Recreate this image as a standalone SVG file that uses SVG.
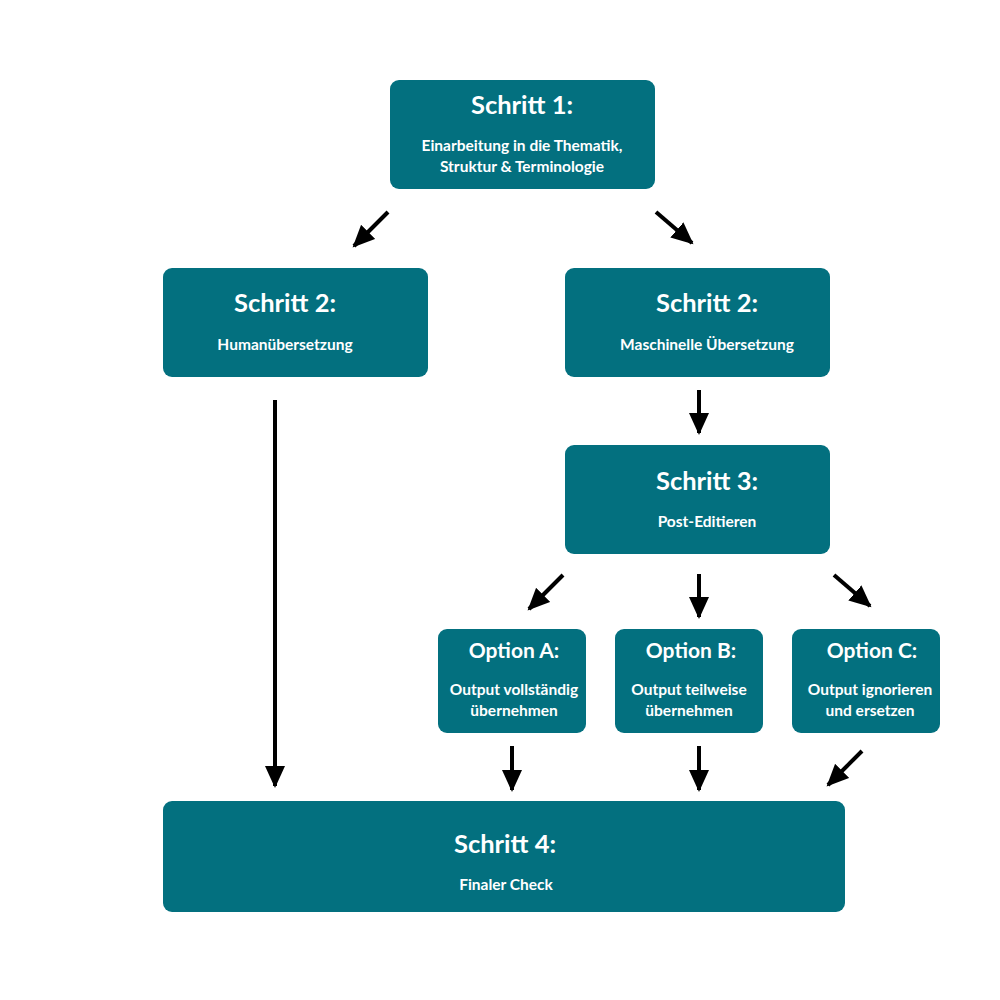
<svg xmlns="http://www.w3.org/2000/svg" width="1000" height="1000" viewBox="0 0 1000 1000">
<defs>
<style>
.box{fill:#03707f}
.t{font-family:"Lato","Open Sans",sans-serif;font-weight:bold;fill:#fff;text-anchor:middle}
.h{font-size:25.5px}
.o{font-size:21px}
.s{font-size:15.5px}
.c{stroke:#000;stroke-width:4;fill:none;marker-end:url(#ah)}
</style>
<marker id="ah" markerUnits="userSpaceOnUse" markerWidth="24" markerHeight="22" refX="20" refY="10" orient="auto">
<path d="M0,0 L22,10 L0,20 Z" fill="#000"/>
</marker>
</defs>
<rect width="1000" height="1000" fill="#fff"/>
<g id="s1"><rect class="box" x="390" y="80" width="265" height="109" rx="9"/>
<text class="t h" x="522" y="114">Schritt 1:</text>
<text class="t s" x="522" y="151">Einarbeitung in die Thematik,</text>
<text class="t s" x="522" y="172">Struktur &amp; Terminologie</text></g>
<g id="s2h"><rect class="box" x="163" y="268" width="265" height="109" rx="9"/>
<text class="t h" x="285" y="312">Schritt 2:</text>
<text class="t s" x="285" y="350">Humanübersetzung</text></g>
<g id="s2m"><rect class="box" x="565" y="268" width="265" height="109" rx="9"/>
<text class="t h" x="707" y="312">Schritt 2:</text>
<text class="t s" x="707" y="350">Maschinelle Übersetzung</text></g>
<g id="s3"><rect class="box" x="565" y="445" width="265" height="109" rx="9"/>
<text class="t h" x="707" y="490">Schritt 3:</text>
<text class="t s" x="707" y="527">Post-Editieren</text></g>
<g id="oa"><rect class="box" x="438" y="629" width="148" height="104" rx="9"/>
<text class="t o" x="514" y="658">Option A:</text>
<text class="t s" x="514" y="695">Output vollständig</text>
<text class="t s" x="514" y="716">übernehmen</text></g>
<g id="ob"><rect class="box" x="615" y="629" width="148" height="104" rx="9"/>
<text class="t o" x="691" y="658">Option B:</text>
<text class="t s" x="689" y="695">Output teilweise</text>
<text class="t s" x="689" y="716">übernehmen</text></g>
<g id="oc"><rect class="box" x="792" y="629" width="148" height="104" rx="9"/>
<text class="t o" x="872" y="658">Option C:</text>
<text class="t s" x="870" y="695">Output ignorieren</text>
<text class="t s" x="870" y="716">und ersetzen</text></g>
<g id="s4"><rect class="box" x="163" y="801" width="682" height="111" rx="9"/>
<text class="t h" x="505" y="853">Schritt 4:</text>
<text class="t s" x="506" y="890">Finaler Check</text></g>
<g id="connectors">
<line class="c" x1="388" y1="212" x2="354" y2="246"/>
<line class="c" x1="656" y1="212" x2="692" y2="243"/>
<line class="c" x1="699" y1="390" x2="699" y2="433"/>
<line class="c" x1="275" y1="400" x2="275" y2="786"/>
<line class="c" x1="563" y1="575" x2="529" y2="609"/>
<line class="c" x1="699" y1="574" x2="699" y2="617"/>
<line class="c" x1="834" y1="575" x2="870" y2="606"/>
<line class="c" x1="512" y1="746" x2="512" y2="790"/>
<line class="c" x1="699" y1="746" x2="699" y2="790"/>
<line class="c" x1="862" y1="751" x2="828" y2="785"/>
</g>
</svg>
